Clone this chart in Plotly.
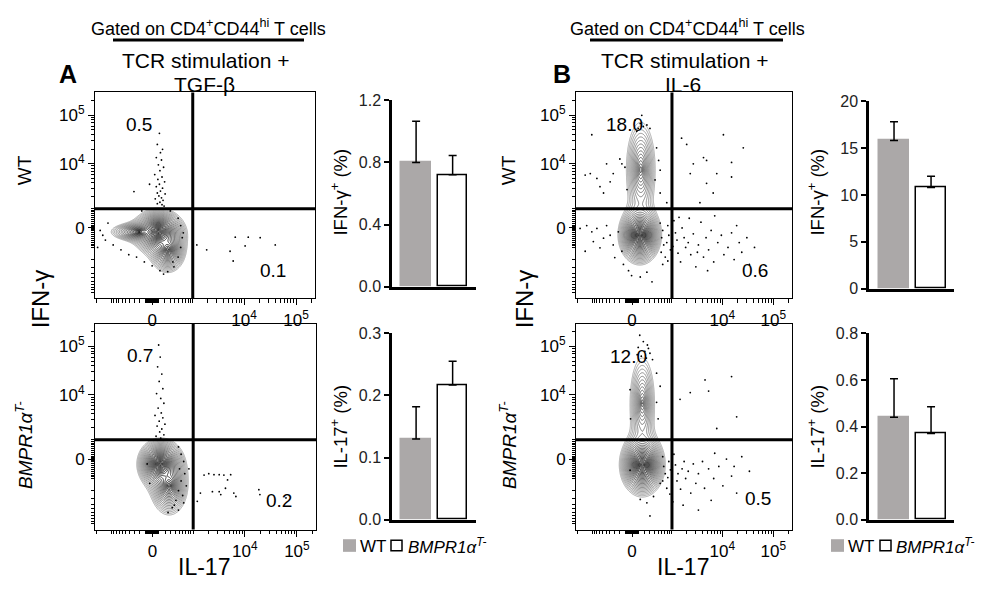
import numpy as np
import plotly.graph_objects as go

W, H = 993, 589
FONT = "Liberation Sans, Arial, Helvetica, sans-serif"

# ---------------- data ----------------
groups = ["WT", "BMPR1α<sup>T-</sup>"]
ifng_tgfb_mean = [0.80, 0.72]
ifng_tgfb_err = [0.265, 0.125]
il17_tgfb_mean = [0.13, 0.217]
il17_tgfb_err = [0.052, 0.038]
ifng_il6_mean = [15.8, 10.8]
ifng_il6_err = [2.0, 1.2]
il17_il6_mean = [0.44, 0.37]
il17_il6_err = [0.165, 0.115]

# quadrant percentages: A-WT, A-KO, B-WT, B-KO
quad_upper_left = ["0.5", "0.7", "18.0", "12.0"]
quad_lower_right = ["0.1", "0.2", "0.6", "0.5"]

# quadrant gates (fluorescence units)
gate_il17 = 1000
gate_ifng = 1000
flow_tick_vals = [0, 1e4, 1e5]
flow_tick_text = ["0", "10<sup>4</sup>", "10<sup>5</sup>"]

# cell populations (display units): centre x/y, extent x/y, relative weight
pop_A_WT_cx = [0.12, -0.25, 0.30]
pop_A_WT_cy = [-0.08, -0.08, -0.45]
pop_A_WT_sx = [0.50, 0.80, 0.45]
pop_A_WT_sy = [0.48, 0.28, 0.62]
pop_A_WT_w = [1.0, 0.2, 0.3]

pop_A_KO_cx = [0.15, 0.32]
pop_A_KO_cy = [-0.10, -0.55]
pop_A_KO_sx = [0.44, 0.47]
pop_A_KO_sy = [0.52, 0.80]
pop_A_KO_w = [1.0, 0.3]

pop_B_WT_cx = [0.15, 0.17]
pop_B_WT_cy = [-0.15, 1.20]
pop_B_WT_sx = [0.42, 0.55]
pop_B_WT_sy = [0.60, 1.90]
pop_B_WT_w = [1.0, 0.10]

pop_B_KO_cx = [0.20, 0.20]
pop_B_KO_cy = [-0.12, 1.15]
pop_B_KO_sx = [0.44, 0.50]
pop_B_KO_sy = [0.64, 1.95]
pop_B_KO_w = [1.0, 0.08]

# outlying events (display units)
dots_A_WT_x = [0.14, 0.10, 0.20, 0.16, 0.08, 0.18, 0.12, 0.22, 0.15, 0.05, 0.19, 0.11, 0.24, 0.14, 0.08,
               0.20, 0.16, 0.10, 0.25, 0.13, 0.18, 0.06, 0.21, 0.15, 0.10, 0.19, 0.23, -0.35, -0.05,
               -1.0, -0.95, -0.85, -0.9, -0.75, -0.6, -0.45, -0.3, -0.15, 0.0, 0.15, 0.3, 0.42, 0.5,
               0.55, 0.58, 0.55, 0.5, 0.35, -0.2, -1.05, 0.22, 0.4, 0.6,
               0.86, 1.05, 1.6, 1.85, 2.08, 1.79, 2.37, 1.56, 1.5]
dots_A_WT_y = [1.95, 1.72, 1.62, 1.55, 1.45, 1.40, 1.30, 1.25, 1.18, 1.10, 1.05, 1.0, 0.95, 0.9, 0.85,
               0.82, 0.76, 0.72, 0.70, 0.66, 0.62, 0.60, 0.57, 0.53, 0.50, 0.48, 0.45, 0.75, 0.9,
               -0.05, -0.15, 0.1, -0.25, -0.35, -0.45, -0.55, -0.6, -0.7, -0.78, -0.88, -0.9, -0.8, -0.6,
               -0.4, -0.2, 0.05, 0.2, 0.35, 0.35, -0.4, -0.95, -0.7, -0.1,
               -0.35, -0.45, -0.19, -0.19, -0.2, -0.37, -0.35, -0.68, -0.48]

dots_A_KO_x = [0.12, 0.15, 0.10, 0.18, 0.13, 0.20, 0.08, 0.16, 0.22, 0.11, 0.17, 0.05, 0.20, 0.13, 0.24,
               0.09, 0.18, 0.14, 0.22, 0.07, 0.16,
               0.5, 0.55, 0.6, 0.52, 0.62, 0.55, 0.65, 0.5, 0.58, 0.45, 0.6, 0.38, 0.5, 0.3, 0.7, 0.42,
               -0.1, -0.05,
               0.99, 1.08, 1.18, 1.28, 1.37, 1.5, 0.92, 1.15, 1.28, 1.4, 1.44, 1.56, 1.6, 2.04, 2.06,
               2.56, 0.86, 1.31]
dots_A_KO_y = [2.35, 2.1, 1.9, 1.75, 1.6, 1.45, 1.35, 1.25, 1.15, 1.05, 0.95, 0.9, 0.85, 0.78, 0.72,
               0.68, 0.62, 0.56, 0.5, 0.47, 0.43,
               0.25, 0.1, -0.05, -0.2, -0.3, -0.45, -0.55, -0.65, -0.75, -0.85, -0.9, -1.0, -1.05,
               -1.1, -0.2, -0.95, -0.1, -0.5,
               -0.33, -0.3, -0.32, -0.32, -0.33, -0.32, -0.7, -0.67, -0.67, -0.6, -0.43, -0.7, -0.77,
               -0.63, -0.73, -0.8, -0.87, -0.73]

dots_B_WT_x = [-0.79, -0.92, -0.82, -0.5, -0.37, -0.24, -0.2, -0.43, -0.63, -0.56, -0.14, -0.1, -0.69,
               0.06, 0.16, 0.22, 0.12, 0.29, 0.19, 0.09, 0.35,
               0.48, 0.52, 0.55, 0.45, 0.55, 0.68,
               0.97, 1.07, 1.4, 1.46, 1.2, 1.66, 1.79, 1.95, 1.46, 2.18, 1.59, 1.14, 1.33, 1.95,
               -0.89, -0.79, -0.69, -0.56, -0.43, -0.63, -0.37, -0.27, -0.76, -0.5, -0.2, -0.92,
               -0.34, -0.17, -0.07, -0.01, 0.16, 0.29, 0.39, -1.02,
               0.55, 0.6, 0.58, 0.62, 0.57, 0.65, 0.6, 0.7, 0.72, 0.68, 0.75, 0.7, 0.82, 0.85, 0.88,
               0.8, 0.9, 0.95, 0.98, 1.02, 1.05, 1.1, 1.15, 1.2, 1.25, 1.3, 1.35, 1.4, 1.45, 1.5,
               1.55, 1.6, 1.68, 1.75, 1.8, 1.88, 1.95, 2.0, 2.1, 2.15, 2.25, 2.3, 1.12, 1.62, 0.92,
               2.4, 2.05, 1.28, 0.78, 1.48]
dots_B_WT_y = [1.92, 1.09, 1.12, 1.32, 1.12, 1.42, 1.32, 0.95, 0.85, 0.72, 1.25, 0.79, 1.02,
               2.22, 2.15, 2.09, 2.05, 2.12, 2.32, 1.99, 2.05,
               1.65, 1.39, 1.19, 0.99, 0.72, 0.52,
               1.85, 1.72, 1.45, 1.39, 1.32, 1.12, 1.92, 1.35, 0.92, 1.65, 0.72, 1.12, 0.52, 1.05,
               0.05, -0.08, -0.01, -0.21, -0.15, -0.41, -0.35, -0.08, -0.28, 0.05, -0.48, -0.48,
               -0.61, -0.75, -0.88, -0.98, -1.01, -0.91, -1.11, -0.01,
               0.1, -0.05, -0.2, -0.35, -0.5, -0.6, -0.75, 0.05, -0.15, -0.3, -0.45, -0.68, 0.15,
               -0.1, -0.25, -0.38, -0.52, -0.7, 0.0, -0.2, -0.4, -0.3, -0.55, -0.12, -0.8, -0.35,
               0.12, -0.6, -0.2, -0.45, -0.05, -0.7, -0.3, -0.15, -0.55, -0.4, -0.1, -0.65, -0.3,
               -0.5, -0.2, -0.75, 0.2, 0.25, 0.22, -0.4, 0.05, -0.5, -0.82, -0.88]

dots_B_KO_x = [0.15, 0.22, 0.30, 0.12, 0.25, 0.35, 0.18, 0.28, 0.40, 0.10, 0.32,
               0.48, 0.55, 0.48, 0.51, -0.04, -0.03,
               0.94, 1.43, 1.5, 1.95, 2.05, 1.66, 1.14,
               0.16, 0.29, 0.42, 0.35, -0.04, 0.55,
               0.6, 0.62, 0.65, 0.6, 0.68, 0.72, 0.75, 0.7, 0.78, 0.74, 0.82, 0.85, 0.9, 0.88, 0.95,
               0.98, 1.02, 1.05, 1.1, 1.15, 1.2, 1.25, 1.3, 1.38, 1.42, 1.5, 1.55, 1.6, 1.7, 1.78,
               1.85, 1.95, 2.05, 2.15, 2.3, 1.0, 1.3, 0.8, 1.62, 2.0]
dots_B_KO_y = [2.55, 2.42, 2.35, 2.3, 2.22, 2.18, 2.12, 2.08, 2.05, 2.15, 2.28,
               1.77, 1.5, 1.17, 0.83, 1.43, 0.83,
               1.23, 1.63, 1.4, 1.7, 0.87, 0.63, 1.37,
               -0.83, -0.9, -0.77, -1.17, -0.23, -0.5,
               0.05, -0.15, -0.3, -0.45, -0.6, -0.05, -0.22, -0.38, -0.5, -0.72, 0.1, -0.12, -0.3,
               -0.45, -0.62, -0.2, -0.05, -0.4, -0.25, -0.7, -0.1, -0.5, -0.3, -0.05, -0.6, -0.2,
               -0.85, -0.4, -0.15, -0.55, 0.0, -0.35, -0.7, 0.05, -0.25, -0.95, -1.05, -0.88, 0.12,
               -0.15]

# ---------------- helpers ----------------
W_IL17 = 170.0   # biexponential width parameters
W_IFNG = 478.0


def tx(v):
    return np.arcsinh(np.asarray(v, float) / (2 * W_IL17)) / np.log(10)


def ty(v):
    return np.arcsinh(np.asarray(v, float) / (2 * W_IFNG)) / np.log(10)


def minor_vals(f, lo, hi):
    out = []
    for n in range(1, 6):
        for k in range(1, 10):
            for s in (1, -1):
                v = s * k * 10 ** n
                if v in (0, 1e4, 1e5):
                    continue
                d = float(f(v))
                if lo < d < hi:
                    out.append(d)
    return sorted(out)


XR = [-1.1, 3.135]
YR = [-1.45, 2.79]
LMAX = 2.2
P = 0.9

gx = np.linspace(XR[0], XR[1], 360)
gy = np.linspace(YR[0], YR[1], 360)
GX, GY = np.meshgrid(gx, gy)


def density(cx, cy, sx, sy, w):
    tot = np.zeros_like(GX)
    for a, b, c, d, e in zip(cx, cy, sx, sy, w):
        r = np.sqrt(((GX - a) / c) ** 2 + ((GY - b) / d) ** 2)
        tot += e * 10 ** (-LMAX * r ** P)
    return np.log10(tot / tot.max() + 1e-12)


def fx(p):
    return p / W


def fy(p):
    return 1 - p / H


panels = [
    dict(ax="", xd=(95, 315), yd=(87, 299),
         pop=(pop_A_WT_cx, pop_A_WT_cy, pop_A_WT_sx, pop_A_WT_sy, pop_A_WT_w),
         dots=(dots_A_WT_x, dots_A_WT_y), q=0, ul=(0.13, 0.905), lr=(0.875, 0.075)),
    dict(ax="2", xd=(95, 316), yd=(325, 537),
         pop=(pop_A_KO_cx, pop_A_KO_cy, pop_A_KO_sx, pop_A_KO_sy, pop_A_KO_w),
         dots=(dots_A_KO_x, dots_A_KO_y), q=1, ul=(0.135, 0.905), lr=(0.9, 0.08)),
    dict(ax="3", xd=(576, 792), yd=(87, 299),
         pop=(pop_B_WT_cx, pop_B_WT_cy, pop_B_WT_sx, pop_B_WT_sy, pop_B_WT_w),
         dots=(dots_B_WT_x, dots_B_WT_y), q=2, ul=(0.13, 0.905), lr=(0.9, 0.075)),
    dict(ax="4", xd=(576, 792), yd=(325, 537),
         pop=(pop_B_KO_cx, pop_B_KO_cy, pop_B_KO_sx, pop_B_KO_sy, pop_B_KO_w),
         dots=(dots_B_KO_x, dots_B_KO_y), q=3, ul=(0.15, 0.9), lr=(0.91, 0.09)),
]

fig = go.Figure()
layout = {}
shapes = []
annotations = []

minor_x = minor_vals(tx, XR[0], XR[1])
minor_y = minor_vals(ty, YR[0], YR[1])

for pnl in panels:
    a = pnl["ax"]
    xa, ya = "x" + a, "y" + a
    z = density(*pnl["pop"])
    fig.add_trace(go.Contour(
        x=gx, y=gy, z=z, xaxis=xa, yaxis=ya,
        contours=dict(coloring="lines", start=-LMAX, end=-0.04, size=0.085),
        colorscale=[[0, "#999999"], [0.3, "#5c5c5c"], [0.6, "#1a1a1a"], [0.75, "#000000"],
                    [1, "#000000"]],
        zmin=-LMAX, zmax=0, showscale=False, line=dict(width=0.85, smoothing=1.0),
        hoverinfo="skip"))
    fig.add_trace(go.Scatter(
        x=pnl["dots"][0], y=pnl["dots"][1], xaxis=xa, yaxis=ya, mode="markers",
        marker=dict(size=1.8, color="black"), hoverinfo="skip", showlegend=False))
    common = dict(showgrid=False, zeroline=False, showline=True, linecolor="black", linewidth=1,
                  mirror=True, ticks="outside", ticklen=6, tickwidth=1, tickcolor="black",
                  tickfont=dict(family=FONT, size=17, color="black"))
    layout["xaxis" + a] = dict(
        domain=[fx(pnl["xd"][0]), fx(pnl["xd"][1])], range=XR, anchor=ya,
        tickvals=list(tx(flow_tick_vals)), ticktext=flow_tick_text,
        minor=dict(tickmode="array", tickvals=minor_x, ticks="outside", ticklen=3.5,
                   tickwidth=1, tickcolor="black"), **common)
    layout["yaxis" + a] = dict(
        domain=[fy(pnl["yd"][1]), fy(pnl["yd"][0])], range=YR, anchor=xa,
        tickvals=list(ty(flow_tick_vals)), ticktext=flow_tick_text,
        minor=dict(tickmode="array", tickvals=minor_y, ticks="outside", ticklen=3.5,
                   tickwidth=1, tickcolor="black"), **common)
    gxv = float(tx(gate_il17))
    gyv = float(ty(gate_ifng))
    shapes.append(dict(type="line", xref=xa, yref=ya + " domain", x0=gxv, x1=gxv, y0=0, y1=1,
                       line=dict(color="black", width=3)))
    shapes.append(dict(type="line", xref=xa + " domain", yref=ya, x0=0, x1=1, y0=gyv, y1=gyv,
                       line=dict(color="black", width=3)))
    annotations.append(dict(xref=xa + " domain", yref=ya + " domain", x=pnl["ul"][0], y=pnl["ul"][1],
                            text=quad_upper_left[pnl["q"]], showarrow=False,
                            font=dict(family=FONT, size=19, color="black")))
    annotations.append(dict(xref=xa + " domain", yref=ya + " domain", x=pnl["lr"][0], y=pnl["lr"][1],
                            text=quad_lower_right[pnl["q"]], showarrow=False,
                            font=dict(family=FONT, size=19, color="black")))

bars = [
    dict(ax="5", xd=(392, 476), yd=(95, 287), mean=ifng_tgfb_mean, err=ifng_tgfb_err,
         yr=[0, 1.2], tv=[0, 0.4, 0.8, 1.2], fmt="{:.1f}", xr=[-0.66, 1.64]),
    dict(ax="6", xd=(392, 476), yd=(335, 527), mean=il17_tgfb_mean, err=il17_tgfb_err,
         yr=[0, 0.3], tv=[0, 0.1, 0.2, 0.3], fmt="{:.1f}", xr=[-0.66, 1.64]),
    dict(ax="7", xd=(869, 954), yd=(96, 289), mean=ifng_il6_mean, err=ifng_il6_err,
         yr=[0, 20], tv=[0, 5, 10, 15, 20], fmt="{:.0f}", xr=[-0.676, 1.62]),
    dict(ax="8", xd=(869, 954), yd=(335, 527), mean=il17_il6_mean, err=il17_il6_err,
         yr=[0, 0.8], tv=[0, 0.2, 0.4, 0.6, 0.8], fmt="{:.1f}", xr=[-0.676, 1.62]),
]
GRAY = "#aba8a8"
for b in bars:
    a = b["ax"]
    xa, ya = "x" + a, "y" + a
    fig.add_trace(go.Bar(
        x=[0, 1], y=b["mean"], xaxis=xa, yaxis=ya, width=0.81,
        marker=dict(color=[GRAY, "white"], line=dict(color=[GRAY, "black"], width=1.5)),
        error_y=dict(type="data", array=b["err"], arrayminus=[0, 0], symmetric=False,
                     color="black", thickness=1.5, width=4),
        showlegend=False, hoverinfo="skip"))
    layout["xaxis" + a] = dict(domain=[fx(b["xd"][0]), fx(b["xd"][1])], range=b["xr"], anchor=ya,
                               showline=True, linecolor="black", linewidth=2.5, showticklabels=False,
                               ticks="", showgrid=False, zeroline=False)
    layout["yaxis" + a] = dict(domain=[fy(b["yd"][1]), fy(b["yd"][0])], range=b["yr"], anchor=xa,
                               showline=True, linecolor="black", linewidth=2.5, ticks="outside",
                               ticklen=5, tickwidth=2, tickcolor="black", showgrid=False,
                               zeroline=False, tickvals=b["tv"],
                               ticktext=[b["fmt"].format(v) for v in b["tv"]],
                               tickfont=dict(family=FONT, size=16, color="#222"))


def txt(x, y, text, size, angle=0, bold=False, italic=False, xanchor="center"):
    t = text
    if bold:
        t = "<b>" + t + "</b>"
    if italic:
        t = "<i>" + t + "</i>"
    annotations.append(dict(xref="paper", yref="paper", x=fx(x), y=fy(y), text=t,
                            showarrow=False, textangle=angle, xanchor=xanchor, yanchor="middle",
                            font=dict(family=FONT, size=size, color="black")))


# headers
for cx, label, letter, lx, l0, l1 in [(208, "TGF-β", "A", 68, 113, 304), (687, "IL-6", "B", 562, 590, 783)]:
    txt(cx, 20, "Gated on CD4<sup>+</sup>CD44<sup>hi</sup> T cells", 18)
    txt(cx - 3, 54, "TCR stimulation +", 21)
    txt(cx - 4, 79, label, 21)
    txt(lx, 68, letter, 25, bold=True)
    shapes.append(dict(type="line", xref="paper", yref="paper", x0=fx(l0), x1=fx(l1),
                       y0=fy(33), y1=fy(33), line=dict(color="black", width=3)))

# flow side labels
for off in (0, 484):
    txt(24 + off, 167, "WT", 19, angle=-90)
    txt(40 + off, 300, "IFN-γ", 24, angle=-90)
    txt(24 + off, 450, "BMPR1α<sup>T-</sup>", 19, angle=-90, italic=True)
    txt(204 if off == 0 else 683, 576, "IL-17", 23)

# bar y titles
for x0 in (339, 816):
    txt(x0, 190, "IFN-γ<sup>+</sup> (%)", 18.5, angle=-90)
    txt(x0, 431, "IL-17<sup>+</sup> (%)", 18.5, angle=-90)

# legends (square left edge, text positions)
for g0, w0, s0, t0 in [(343, 358, 391, 406), (831, 846, 880, 894)]:
    shapes.append(dict(type="rect", xref="paper", yref="paper", x0=fx(g0), x1=fx(g0 + 13),
                       y0=fy(560), y1=fy(547), fillcolor=GRAY, line=dict(width=0)))
    txt(w0, 554, groups[0], 17, xanchor="left")
    shapes.append(dict(type="rect", xref="paper", yref="paper", x0=fx(s0), x1=fx(s0 + 11),
                       y0=fy(559), y1=fy(548), fillcolor="white", line=dict(color="black", width=1.5)))
    txt(t0, 554, groups[1], 17, italic=True, xanchor="left")

layout.update(dict(width=W, height=H, margin=dict(l=0, r=0, t=0, b=0), plot_bgcolor="white",
                   paper_bgcolor="white", shapes=shapes, annotations=annotations, showlegend=False,
                   bargap=0))
fig.update_layout(**layout)
fig.write_html("out.html", config={"displayModeBar": False},
               post_script="document.body.style.margin='0';document.body.style.overflow='hidden';")
